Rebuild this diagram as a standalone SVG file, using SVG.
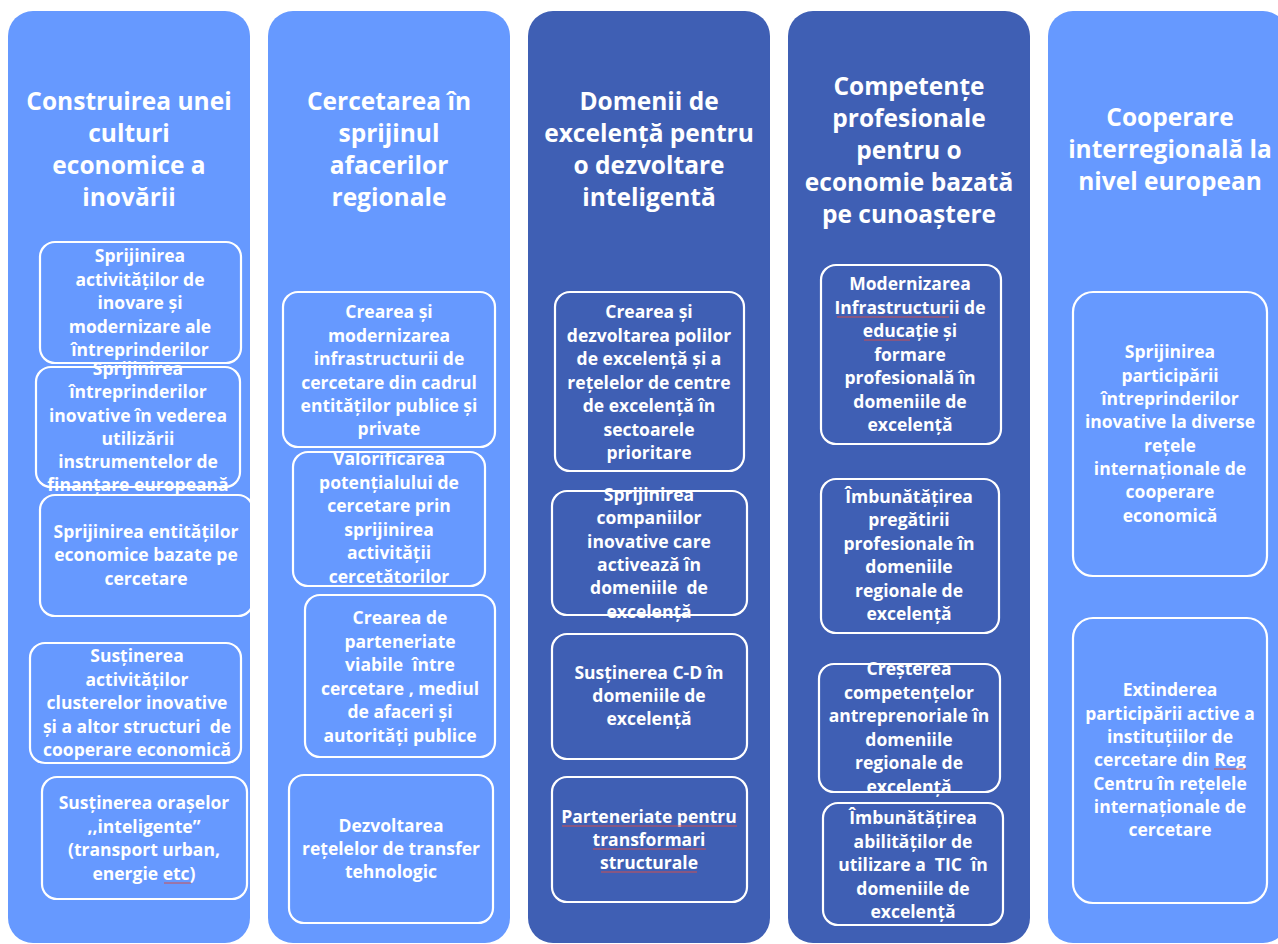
<svg xmlns="http://www.w3.org/2000/svg" width="1278" height="944" viewBox="0 0 1278 944">
<style>
.bg{fill:#ffffff}
.colL{fill:#6699FF}
.colD{fill:#3F5FB4}
.box{fill:none;stroke:#ffffff;stroke-width:2.2}
.h{font-family:"Open Sans",Lato,"Liberation Sans",sans-serif;font-weight:bold;font-size:24.5px;fill:#ffffff;text-anchor:middle}
.t{font-family:"Open Sans",Lato,"Liberation Sans",sans-serif;font-weight:bold;font-size:17.5px;fill:#ffffff;text-anchor:middle}
.sp{stroke:#d05050;stroke-width:1;fill:none}
</style>
<rect class="bg" x="0" y="0" width="1278" height="944"/>

<g id="col1">
<rect class="colL" x="8" y="11" width="242" height="932" rx="25"/>
<text class="h"><tspan x="129" y="110">Construirea unei</tspan><tspan x="129" y="142">culturi</tspan><tspan x="129" y="174">economice a</tspan><tspan x="129" y="206">inovării</tspan></text>
</g>
<g id="b1">
<rect class="box" x="40" y="242" width="201" height="121" rx="15"/>
<text class="t"><tspan x="140" y="262">Sprijinirea</tspan><tspan x="140" y="286">activităților de</tspan><tspan x="140" y="309">inovare și</tspan><tspan x="140" y="333">modernizare ale</tspan><tspan x="140" y="356">întreprinderilor</tspan></text>
</g>
<g id="b2">
<rect class="box" x="36" y="367" width="204" height="120" rx="15"/>
<text class="t"><tspan x="138" y="375">Sprijinirea</tspan><tspan x="138" y="398">întreprinderilor</tspan><tspan x="138" y="422">inovative în vederea</tspan><tspan x="138" y="445">utilizării</tspan><tspan x="138" y="468">instrumentelor de</tspan><tspan x="138" y="491">finanțare europeană</tspan></text>
</g>
<g id="b3">
<rect class="box" x="40" y="495" width="213" height="121" rx="15"/>
<text class="t"><tspan x="146" y="538">Sprijinirea entităților</tspan><tspan x="146" y="561">economice bazate pe</tspan><tspan x="146" y="585">cercetare</tspan></text>
</g>
<g id="b4">
<rect class="box" x="30" y="643" width="211" height="120" rx="15"/>
<text class="t" xml:space="preserve"><tspan x="137" y="662">Susținerea</tspan><tspan x="137" y="685.5">activităților</tspan><tspan x="137" y="709">clusterelor inovative</tspan><tspan x="137" y="732.5">și a altor structuri  de</tspan><tspan x="137" y="756">cooperare economică</tspan></text>
</g>
<g id="b5">
<rect class="box" x="42" y="777" width="205" height="122" rx="15"/>
<text class="t"><tspan x="144" y="809">Susținerea orașelor</tspan><tspan x="144" y="833">,,inteligente”</tspan><tspan x="144" y="856">(transport urban,</tspan><tspan x="144" y="880">energie etc)</tspan></text>
<path class="sp" d="M164 883 L191 883"/>
</g>

<g id="col2">
<rect class="colL" x="268" y="11" width="242" height="932" rx="25"/>
<text class="h"><tspan x="389" y="110">Cercetarea în</tspan><tspan x="389" y="142">sprijinul</tspan><tspan x="389" y="174">afacerilor</tspan><tspan x="389" y="206">regionale</tspan></text>
</g>
<g id="c1">
<rect class="box" x="283" y="292" width="212" height="155" rx="15"/>
<text class="t"><tspan x="389" y="318">Crearea și</tspan><tspan x="389" y="341.5">modernizarea</tspan><tspan x="389" y="365">infrastructurii de</tspan><tspan x="389" y="388.5">cercetare din cadrul</tspan><tspan x="389" y="412">entităților publice și</tspan><tspan x="389" y="435">private</tspan></text>
</g>
<g id="c2">
<rect class="box" x="293" y="452" width="192" height="134" rx="15"/>
<text class="t"><tspan x="389" y="465">Valorificarea</tspan><tspan x="389" y="488.5">potențialului de</tspan><tspan x="389" y="512">cercetare prin</tspan><tspan x="389" y="535.5">sprijinirea</tspan><tspan x="389" y="559">activității</tspan><tspan x="389" y="582.5">cercetătorilor</tspan></text>
</g>
<g id="c3">
<rect class="box" x="305" y="595" width="190" height="162" rx="15"/>
<text class="t" xml:space="preserve"><tspan x="400" y="624">Crearea de</tspan><tspan x="400" y="647.5">parteneriate</tspan><tspan x="400" y="671">viabile  între</tspan><tspan x="400" y="694.5">cercetare , mediul</tspan><tspan x="400" y="718">de afaceri și</tspan><tspan x="400" y="741.5">autorități publice</tspan></text>
</g>
<g id="c4">
<rect class="box" x="289" y="775" width="204" height="148" rx="15"/>
<text class="t"><tspan x="391" y="832">Dezvoltarea</tspan><tspan x="391" y="855">rețelelor de transfer</tspan><tspan x="391" y="878">tehnologic</tspan></text>
</g>

<g id="col3">
<rect class="colD" x="528" y="11" width="242" height="932" rx="25"/>
<text class="h"><tspan x="649" y="110">Domenii de</tspan><tspan x="649" y="142">excelență pentru</tspan><tspan x="649" y="174">o dezvoltare</tspan><tspan x="649" y="206">inteligentă</tspan></text>
</g>
<g id="d1">
<rect class="box" x="555" y="292" width="189" height="179" rx="15"/>
<text class="t"><tspan x="649" y="318">Crearea și</tspan><tspan x="649" y="341.5">dezvoltarea polilor</tspan><tspan x="649" y="365">de excelență și a</tspan><tspan x="649" y="388.5">rețelelor de centre</tspan><tspan x="649" y="412">de excelență în</tspan><tspan x="649" y="435.5">sectoarele</tspan><tspan x="649" y="459">prioritare</tspan></text>
</g>
<g id="d2">
<rect class="box" x="552" y="491" width="195" height="124" rx="15"/>
<text class="t" xml:space="preserve"><tspan x="649" y="501">Sprijinirea</tspan><tspan x="649" y="524">companiilor</tspan><tspan x="649" y="548">inovative care</tspan><tspan x="649" y="571">activează în</tspan><tspan x="649" y="594">domeniile  de</tspan><tspan x="649" y="618">excelență</tspan></text>
</g>
<g id="d3">
<rect class="box" x="552" y="634" width="195" height="125" rx="15"/>
<text class="t"><tspan x="649" y="679">Susținerea C-D în</tspan><tspan x="649" y="702">domeniile de</tspan><tspan x="649" y="725">excelență</tspan></text>
</g>
<g id="d4">
<rect class="box" x="552" y="777" width="195" height="125" rx="15"/>
<text class="t"><tspan x="649" y="823">Parteneriate pentru</tspan><tspan x="649" y="846">transformari</tspan><tspan x="649" y="869">structurale</tspan></text>
<path class="sp" d="M562 826 L737 826 M593 849 L706 849 M601 872 L697 872"/>
</g>

<g id="col4">
<rect class="colD" x="788" y="11" width="242" height="932" rx="25"/>
<text class="h"><tspan x="909" y="95">Competențe</tspan><tspan x="909" y="127">profesionale</tspan><tspan x="909" y="159">pentru o</tspan><tspan x="909" y="191">economie bazată</tspan><tspan x="909" y="223">pe cunoaștere</tspan></text>
</g>
<g id="e1">
<rect class="box" x="821" y="265" width="180" height="179" rx="15"/>
<text class="t"><tspan x="910" y="290">Modernizarea</tspan><tspan x="910" y="314">Infrastructurii de</tspan><tspan x="910" y="337">educație și</tspan><tspan x="910" y="361">formare</tspan><tspan x="910" y="384">profesională în</tspan><tspan x="910" y="408">domeniile de</tspan><tspan x="910" y="431">excelență</tspan></text>
<path class="sp" d="M837 317 L949 317 M864 340 L910 340"/>
</g>
<g id="e2">
<rect class="box" x="821" y="479" width="178" height="154" rx="15"/>
<text class="t"><tspan x="909" y="503">Îmbunătățirea</tspan><tspan x="909" y="526">pregătirii</tspan><tspan x="909" y="550">profesionale în</tspan><tspan x="909" y="573">domeniile</tspan><tspan x="909" y="597">regionale de</tspan><tspan x="909" y="620">excelență</tspan></text>
</g>
<g id="e3">
<rect class="box" x="819" y="664" width="181" height="128" rx="15"/>
<text class="t"><tspan x="909" y="675">Creșterea</tspan><tspan x="909" y="698.5">competențelor</tspan><tspan x="909" y="722">antreprenoriale în</tspan><tspan x="909" y="745.5">domeniile</tspan><tspan x="909" y="769">regionale de</tspan><tspan x="909" y="792.5">excelență</tspan></text>
</g>
<g id="e4">
<rect class="box" x="823" y="803" width="180" height="122" rx="15"/>
<text class="t" xml:space="preserve"><tspan x="913" y="824">Îmbunătățirea</tspan><tspan x="913" y="847.5">abilităților de</tspan><tspan x="913" y="871">utilizare a  TIC  în</tspan><tspan x="913" y="894.5">domeniile de</tspan><tspan x="913" y="918">excelență</tspan></text>
</g>

<g id="col5">
<rect class="colL" x="1048" y="11" width="240" height="932" rx="25"/>
<text class="h"><tspan x="1170" y="126">Cooperare</tspan><tspan x="1170" y="158">interregională la</tspan><tspan x="1170" y="190">nivel european</tspan></text>
</g>
<g id="f1">
<rect class="box" x="1073" y="292" width="194" height="284" rx="20"/>
<text class="t"><tspan x="1170" y="358">Sprijinirea</tspan><tspan x="1170" y="381.5">participării</tspan><tspan x="1170" y="405">întreprinderilor</tspan><tspan x="1170" y="428">inovative la diverse</tspan><tspan x="1170" y="451.5">rețele</tspan><tspan x="1170" y="475">internaționale de</tspan><tspan x="1170" y="498">cooperare</tspan><tspan x="1170" y="521.5">economică</tspan></text>
</g>
<g id="f2">
<rect class="box" x="1073" y="618" width="194" height="285" rx="20"/>
<text class="t"><tspan x="1170" y="696">Extinderea</tspan><tspan x="1170" y="719.5">participării active a</tspan><tspan x="1170" y="743">instituțiilor de</tspan><tspan x="1170" y="766">cercetare din Reg</tspan><tspan x="1170" y="789.5">Centru în rețelele</tspan><tspan x="1170" y="813">internaționale de</tspan><tspan x="1170" y="836">cercetare</tspan></text>
<path class="sp" d="M1214 769 L1246 769"/>
</g>

<g id="connectors"></g>
</svg>
